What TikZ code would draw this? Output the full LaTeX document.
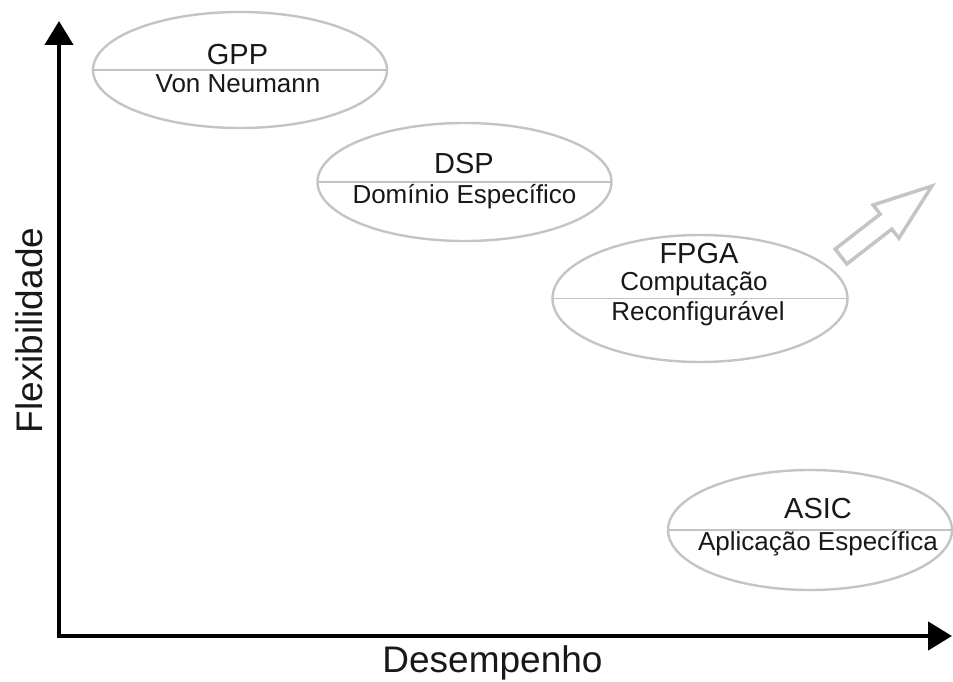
\documentclass[tikz,border=0pt]{standalone}
\usepackage{fontspec}
\setmainfont{Liberation Sans}
\usetikzlibrary{arrows.meta,shapes.geometric}

\definecolor{rim}{RGB}{196,196,196}
\definecolor{ink}{RGB}{24,24,24}

\tikzset{
  class/.style={draw=rim, line width=2.4pt, ellipse, inner sep=0pt, outer sep=0pt},
  divider/.style={draw=rim, line width=1.3pt},
  title/.style={text=ink, inner sep=0pt, anchor=base, font=\fontsize{29}{34}\selectfont},
  subtitle/.style={text=ink, inner sep=0pt, anchor=base, font=\fontsize{26}{31}\selectfont},
  axislabel/.style={text=ink, inner sep=0pt, anchor=base, font=\fontsize{37}{44}\selectfont},
  axis/.style={line width=4.5pt, -{Triangle[length=24pt,width=28pt]}},
  trend/.style={draw=rim, line width=3.5pt, line join=miter}
}

\begin{document}
\begin{tikzpicture}[x=1pt, y=-1pt]
  \useasboundingbox (0,0) rectangle (953,682);

  % axes
  \coordinate (origin) at (59,636);
  \coordinate (ytip) at (59,21);
  \coordinate (xtip) at (952,636);
  \draw[axis] ([yshift=-2.25pt]origin) -- (ytip);
  \draw[axis] ([xshift=-2.25pt]origin) -- (xtip);

  \node[axislabel] (xlabel) at (492.5,672) {Desempenho};
  \node[axislabel, rotate=90] (ylabel) at (42,330.5) {Flexibilidade};

  % architecture classes
  \node[class, minimum width=294pt, minimum height=116pt] (gpp) at (240,70) {};
  \draw[divider] (gpp.west) -- (gpp.east);
  \node[title] (gppT) at (237.5,65) {GPP};
  \node[subtitle] (gppS) at (238,93) {Von Neumann};

  \node[class, minimum width=294pt, minimum height=118pt] (dsp) at (464.5,182) {};
  \draw[divider] (dsp.west) -- (dsp.east);
  \node[title] (dspT) at (464,173) {DSP};
  \node[subtitle] (dspS) at (464.5,203) {Domínio Específico};

  \node[class, minimum width=295pt, minimum height=127pt] (fpga) at (700,298.5) {};
  \draw[divider] (fpga.west) -- (fpga.east);
  \node[title] (fpgaT) at (699,263) {FPGA};
  \node[subtitle] (fpgaS1) at (694,290) {Computação};
  \node[subtitle] (fpgaS2) at (698,320) {Reconfigurável};

  \node[class, minimum width=284pt, minimum height=120pt] (asic) at (810,530) {};
  \draw[divider] (asic.west) -- (asic.east);
  \node[title] (asicT) at (818,518) {ASIC};
  \node[subtitle] (asicS) at (818,550) {Aplicação Específica};

  % hollow trend arrow
  \draw[trend] (835.2,249) -- (880.2,214.1) -- (873.1,205) -- (931.9,186)
    -- (898.9,238.2) -- (891.8,229.1) -- (846.8,264) -- cycle;
\end{tikzpicture}
\end{document}
